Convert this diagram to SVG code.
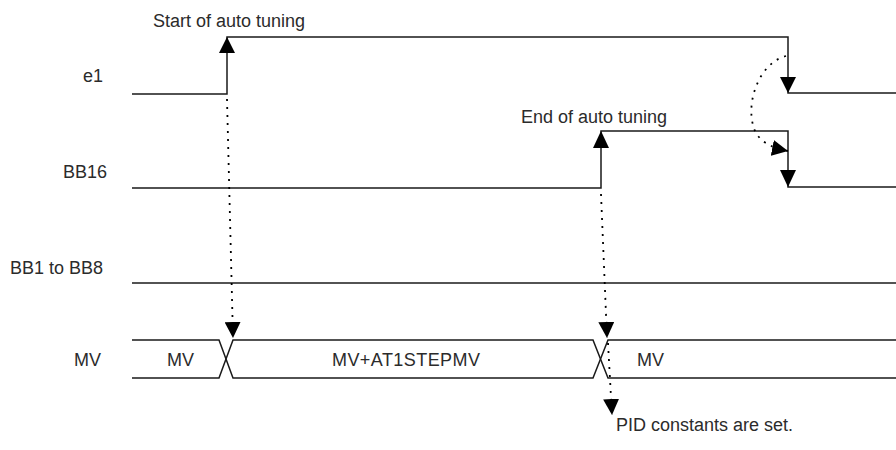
<svg xmlns="http://www.w3.org/2000/svg" width="896" height="450" viewBox="0 0 896 450">
<style>
.sig{fill:none;stroke:#1a1a1a;stroke-width:1.5}
.head{fill:#000}
.dot{fill:none;stroke:#000;stroke-width:1.8;stroke-dasharray:2 6}
text{font-family:"Liberation Sans",Arial,sans-serif;font-size:18px;fill:#2b2b2b}
.r{text-anchor:end}
</style>
<defs>
<marker id="ah" markerUnits="userSpaceOnUse" markerWidth="16" markerHeight="16" viewBox="0 0 16 16" refX="16" refY="8" orient="auto">
<path d="M0,0 L16,8 L0,16 z" fill="#000"/>
</marker>
</defs>
<rect width="896" height="450" fill="#fff"/>
<g id="e1">
<text class="r" x="103" y="82">e1</text>
<path class="sig" d="M132,94 H227 V37 H788 V93 H896"/>
<polygon class="head" points="227,37 219,53 235,53"/>
<polygon class="head" points="788,93 780,77 796,77"/>
</g>
<g id="bb16">
<text class="r" x="107" y="178">BB16</text>
<path class="sig" d="M132,188 H601 V131 H788 V187 H896"/>
<polygon class="head" points="601,131 593,148 609,148"/>
<polygon class="head" points="788,187 780,170 796,170"/>
</g>
<g id="bb1to8">
<text class="r" x="103" y="274">BB1 to BB8</text>
<path class="sig" d="M132,283 H896"/>
</g>
<g id="mv">
<text class="r" x="101" y="366">MV</text>
<path class="sig" d="M132,340 H219 L233,378 H593 L608,340 H896"/>
<path class="sig" d="M132,378 H219 L233,340 H593 L608,378 H896"/>
<text x="167" y="366">MV</text>
<text x="332" y="366" textLength="148">MV+AT1STEPMV</text>
<text x="637" y="366">MV</text>
</g>
<g id="labels">
<text x="153" y="27">Start of auto tuning</text>
<text x="521" y="123">End of auto tuning</text>
<text x="616" y="431">PID constants are set.</text>
</g>
<g id="connectors">
<path class="dot" d="M227,99 L233,338" marker-end="url(#ah)"/>
<path class="dot" d="M601,194 L607,338" marker-end="url(#ah)"/>
<path class="dot" d="M608,343 L612,415" marker-end="url(#ah)"/>
<path class="dot" d="M786,56 C762,62 748,95 752,120 C754,135 762,146 788,151" marker-end="url(#ah)"/>
</g>
</svg>
